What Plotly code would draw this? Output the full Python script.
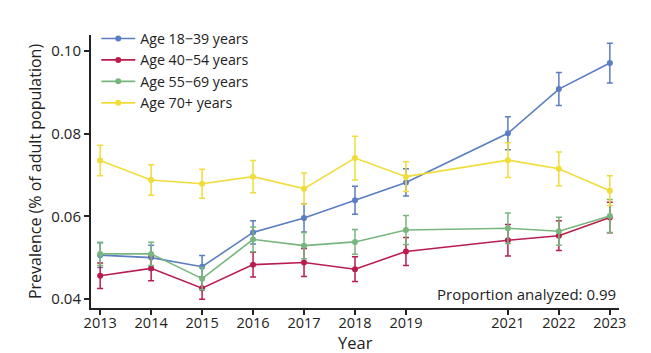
import plotly.graph_objects as go

years = [2013, 2014, 2015, 2016, 2017, 2018, 2019, 2021, 2022, 2023]

age_18_39 = [0.0506, 0.0500, 0.0478, 0.0561, 0.0596, 0.0639, 0.0682, 0.0801, 0.0908, 0.0971]
err_18_39 = [0.0030, 0.0030, 0.0027, 0.0028, 0.0034, 0.0034, 0.0033, 0.0040, 0.0040, 0.0048]

age_40_54 = [0.0456, 0.0474, 0.0426, 0.0483, 0.0488, 0.0472, 0.0515, 0.0542, 0.0553, 0.0597]
err_40_54 = [0.0031, 0.0030, 0.0027, 0.0030, 0.0034, 0.0030, 0.0034, 0.0038, 0.0036, 0.0037]

age_55_69 = [0.0509, 0.0509, 0.0449, 0.0544, 0.0529, 0.0538, 0.0567, 0.0571, 0.0564, 0.0601]
err_55_69 = [0.0028, 0.0028, 0.0027, 0.0030, 0.0032, 0.0030, 0.0035, 0.0037, 0.0034, 0.0040]

age_70p = [0.0735, 0.0688, 0.0679, 0.0696, 0.0667, 0.0741, 0.0696, 0.0736, 0.0715, 0.0662]
err_70p = [0.0037, 0.0037, 0.0035, 0.0039, 0.0038, 0.0053, 0.0036, 0.0042, 0.0041, 0.0036]

series = [
    ("Age 18\u221239 years", age_18_39, err_18_39, "#5b7dc2"),
    ("Age 40\u221254 years", age_40_54, err_40_54, "#b81d4e"),
    ("Age 55\u221269 years", age_55_69, err_55_69, "#78b67e"),
    ("Age 70+ years", age_70p, err_70p, "#f0dc3a"),
]

fig = go.Figure()
for name, vals, errs, color in series:
    fig.add_trace(go.Scatter(
        x=years, y=vals, name=name, mode="lines+markers",
        line=dict(color=color, width=1.6),
        marker=dict(color=color, size=6),
        error_y=dict(type="data", array=errs, visible=True, color=color,
                     thickness=1.5, width=3),
    ))

font_family = "Open Sans, Noto Sans, sans-serif"
fig.update_layout(
    width=651, height=353,
    margin=dict(l=91, r=32, t=35, b=45),
    paper_bgcolor="white", plot_bgcolor="white",
    font=dict(family=font_family, size=15, color="#222"),
    showlegend=True,
    legend=dict(x=0.01, y=1.045, xanchor="left", yanchor="top",
                bgcolor="rgba(0,0,0,0)", font=dict(size=14.2, color="#222"),
                tracegroupgap=0, itemwidth=34),
    xaxis=dict(
        range=[2012.82, 2023.18], tickmode="array", tickvals=years,
        ticktext=[str(y) for y in years], automargin=False,
        showgrid=False, zeroline=False, showline=True, linecolor="#222",
        linewidth=2, ticks="outside", ticklen=5, tickwidth=1.5, tickcolor="#222",
        tickfont=dict(size=14.5), ticklabelstandoff=-4,
    ),
    yaxis=dict(
        range=[0.0378, 0.1039], tickmode="array", automargin=False,
        tickvals=[0.04, 0.06, 0.08, 0.10], ticktext=["0.04", "0.06", "0.08", "0.10"],
        showgrid=False, zeroline=False, showline=True, linecolor="#222",
        linewidth=2, ticks="outside", ticklen=5, tickwidth=1.5, tickcolor="#222",
        title=dict(text="Prevalence (% of adult population)", font=dict(size=16), standoff=6),
        tickfont=dict(size=15),
    ),
    annotations=[
        dict(text="Proportion analyzed: 0.99", x=0.998, y=0.05, xref="paper", yref="paper",
             xanchor="right", yanchor="middle", showarrow=False,
             font=dict(size=15, color="#222")),
        dict(text="Year", x=0.5, y=-0.128, xref="paper", yref="paper",
             xanchor="center", yanchor="middle", showarrow=False,
             font=dict(size=16.5, color="#222")),
    ],
)

fig.write_html("out.html")
